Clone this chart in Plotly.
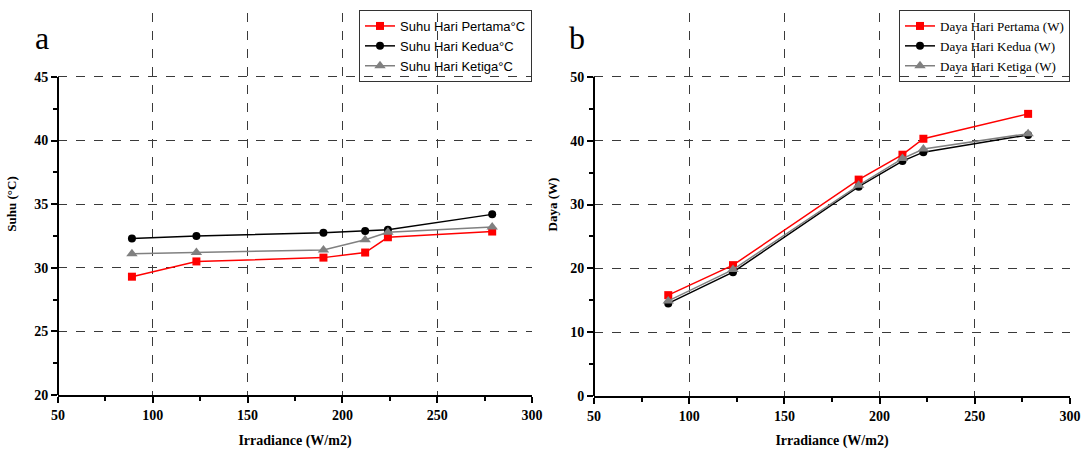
import plotly.graph_objects as go

# Irradiance readings (W/m2)
irr_suhu = [89, 123, 190, 212, 224, 279]
irr_daya = [89, 123, 189, 212, 223, 278]

# Module temperature (°C) per day
suhu_pertama = [29.3, 30.5, 30.8, 31.2, 32.4, 32.85]
suhu_kedua = [32.3, 32.5, 32.75, 32.9, 33.0, 34.2]
suhu_ketiga = [31.1, 31.2, 31.4, 32.2, 32.8, 33.2]

# Output power (W) per day
daya_pertama = [15.8, 20.5, 33.9, 37.8, 40.3, 44.2]
daya_kedua = [14.5, 19.4, 32.8, 36.8, 38.2, 40.9]
daya_ketiga = [14.9, 19.8, 33.0, 37.2, 38.7, 41.1]

x_ticks = [50, 100, 150, 200, 250, 300]
x_minor = [75, 125, 175, 225, 275]
suhu_ticks = [20, 25, 30, 35, 40, 45]
suhu_minor = [22.5, 27.5, 32.5, 37.5, 42.5]
daya_ticks = [0, 10, 20, 30, 40, 50]
daya_minor = [5, 15, 25, 35, 45]

RED, BLACK, GRAY = "#ff0000", "#000000", "#808080"
SERIF = "Liberation Serif"
SANS = "Liberation Sans"

fig = go.Figure()

series = [
    (irr_suhu, suhu_pertama, "Suhu Hari Pertama°C", RED, "square", 8, "x", "y", "legend"),
    (irr_suhu, suhu_kedua, "Suhu Hari Kedua°C", BLACK, "circle", 8, "x", "y", "legend"),
    (irr_suhu, suhu_ketiga, "Suhu Hari Ketiga°C", GRAY, "triangle-up", 10, "x", "y", "legend"),
    (irr_daya, daya_pertama, "Daya Hari Pertama (W)", RED, "square", 8, "x2", "y2", "legend2"),
    (irr_daya, daya_kedua, "Daya Hari Kedua (W)", BLACK, "circle", 8, "x2", "y2", "legend2"),
    (irr_daya, daya_ketiga, "Daya Hari Ketiga (W)", GRAY, "triangle-up", 10, "x2", "y2", "legend2"),
]
for xs, ys, name, col, sym, size, xa, ya, lg in series:
    fig.add_trace(go.Scatter(
        x=xs, y=ys, name=name, mode="lines+markers",
        line=dict(color=col, width=1.5),
        marker=dict(symbol=sym, size=size, color=col),
        xaxis=xa, yaxis=ya, legend=lg,
    ))

tickfont = dict(family=SERIF, size=14, color="black", weight="bold")
titlefont = dict(family=SERIF, size=14, color="black", weight="bold")
grid = dict(showgrid=True, gridcolor="#3a3a3a", gridwidth=1, griddash="dash")

xcommon = dict(
    range=[50, 300], tickvals=x_ticks, tickfont=tickfont,
    showline=True, linecolor="black", linewidth=2,
    ticks="outside", ticklen=6, tickwidth=1.5, tickcolor="black",
    minor=dict(tickvals=x_minor, ticks="outside", ticklen=4, tickwidth=1.5,
               tickcolor="black", showgrid=False),
    zeroline=False, automargin=False,
    title=dict(text="Irradiance (W/m2)", font=titlefont, standoff=15),
    **grid,
)
ycommon = dict(
    tickfont=tickfont, showline=False,
    ticks="outside", ticklen=6, tickwidth=1.5, tickcolor="black",
    zeroline=False, automargin=False, **grid,
)

legend_top = (449 - 10) / 449

fig.update_layout(
    width=1086, height=449,
    margin=dict(l=0, r=0, t=0, b=0),
    paper_bgcolor="white", plot_bgcolor="white",
    xaxis=dict(domain=[58 / 1086, 532 / 1086], anchor="y", **xcommon),
    xaxis2=dict(domain=[594 / 1086, 1070 / 1086], anchor="y2", **xcommon),
    yaxis=dict(
        domain=[(449 - 395) / 449, (449 - 13) / 449], anchor="x",
        range=[20, 50.03], tickvals=suhu_ticks,
        minor=dict(tickvals=suhu_minor, ticks="outside", ticklen=4, tickwidth=1.5,
                   tickcolor="black", showgrid=False),
        title=dict(text="Suhu (°C)", font=dict(family=SERIF, size=13, color="black", weight="bold"), standoff=14),
        **ycommon,
    ),
    yaxis2=dict(
        domain=[(449 - 396) / 449, (449 - 13) / 449], anchor="x2",
        range=[0, 60], tickvals=daya_ticks,
        minor=dict(tickvals=daya_minor, ticks="outside", ticklen=4, tickwidth=1.5,
                   tickcolor="black", showgrid=False),
        title=dict(text="Daya (W)", font=dict(family=SERIF, size=13, color="black", weight="bold"), standoff=9),
        **ycommon,
    ),
    legend=dict(
        x=532 / 1086, y=legend_top, xanchor="right", yanchor="top",
        bgcolor="rgba(0,0,0,0)", bordercolor="#333333", borderwidth=1,
        font=dict(family=SANS, size=13, color="black"),
        tracegroupgap=0, itemwidth=30,
    ),
    legend2=dict(
        x=1070 / 1086, y=legend_top, xanchor="right", yanchor="top",
        bgcolor="rgba(0,0,0,0)", bordercolor="#333333", borderwidth=1,
        font=dict(family=SERIF, size=13, color="black"),
        tracegroupgap=0, itemwidth=30,
    ),
    showlegend=True,
)

# Left-hand axis lines stop at the last labelled tick
fig.add_shape(type="line", xref="x domain", yref="y", x0=0, x1=0, y0=20, y1=45,
              line=dict(color="black", width=2))
fig.add_shape(type="line", xref="x2 domain", yref="y2", x0=0, x1=0, y0=0, y1=50,
              line=dict(color="black", width=2))

# Panel letters
for letter, px in (("a", 42), ("b", 577)):
    fig.add_annotation(text=letter, x=px / 1086, y=(449 - 38) / 449,
                       xref="paper", yref="paper", xanchor="center", yanchor="middle",
                       showarrow=False, font=dict(family=SERIF, size=32, color="black"))

fig.write_html("out.html")
